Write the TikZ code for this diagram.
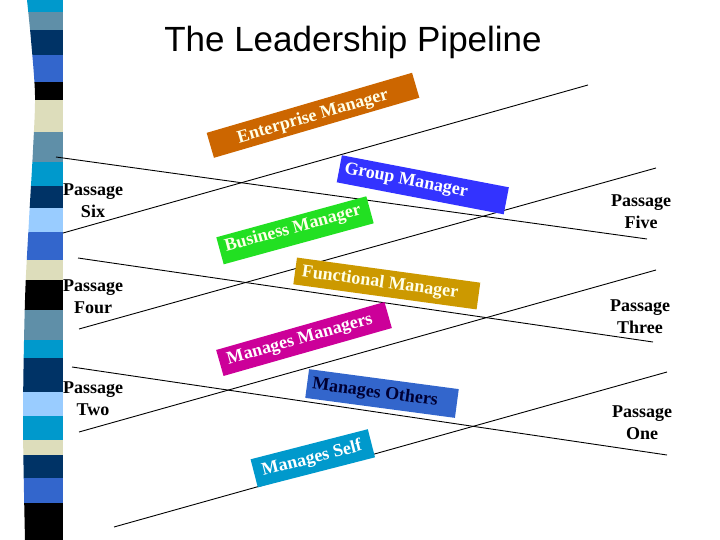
\documentclass[tikz,border=0pt]{standalone}
\usepackage{fontspec}
\setmainfont{Liberation Serif}
\newfontfamily\titlefont{Liberation Sans}
\definecolor{stcyan}{HTML}{0099CC}
\definecolor{ststeel}{HTML}{5F8FA8}
\definecolor{stnavy}{HTML}{003366}
\definecolor{stroyal}{HTML}{3366CC}
\definecolor{stbeige}{HTML}{DDDDBB}
\definecolor{stlight}{HTML}{99CCFF}
\definecolor{entcol}{HTML}{CC6600}
\definecolor{grpcol}{HTML}{3333FF}
\definecolor{buscol}{HTML}{22E022}
\definecolor{funcol}{HTML}{CC9900}
\definecolor{mgrcol}{HTML}{CC0099}
\definecolor{othcol}{HTML}{3366CC}
\definecolor{slfcol}{HTML}{0099CC}
\definecolor{cream}{HTML}{FFFFE8}
\definecolor{darktext}{HTML}{000033}
\begin{document}
\begin{tikzpicture}[x=1pt,y=-1pt,
  banner/.style={draw=none, inner sep=0pt},
  bantext/.style={inner sep=0pt, font=\fontsize{18}{20}\selectfont\bfseries},
  passage/.style={align=center, inner sep=0pt, font=\fontsize{18}{22}\selectfont\bfseries},
  pipeline/.style={draw=black, line width=0.9pt}]
\useasboundingbox[fill=white] (0,0) rectangle (720,540);

% left stripe
\begin{scope}
\clip plot[smooth] coordinates {(25,540) (23,420) (25,300) (29,220) (33,150) (35,95) (31,40) (27,0)} -- (63,0) -- (63,540) -- cycle;
\foreach \ya/\yb/\c in {0/12/stcyan, 12/30/ststeel, 30/55/stnavy, 55/82/stroyal, 82/100/black,
  100/132/stbeige, 132/162/ststeel, 162/186/stcyan, 186/208/stnavy, 208/232/stlight,
  232/260/stroyal, 260/280/stbeige, 280/310/black, 310/340/ststeel, 340/358/stcyan,
  358/392/stnavy, 392/416/stlight, 416/440/stcyan, 440/455/stbeige, 455/478/stnavy,
  478/503/stroyal, 503/540/black}
  \fill[\c] (0,\ya) rectangle (63,\yb);
\end{scope}

% title
\node[font=\titlefont\fontsize{35}{40}\selectfont] (title) at (353,42) {The Leadership Pipeline};

% pipeline line end points
\coordinate (a1) at (63,233);  \coordinate (a2) at (588,85);
\coordinate (b1) at (79,329);  \coordinate (b2) at (656,168);
\coordinate (c1) at (79,432);  \coordinate (c2) at (656,270);
\coordinate (d1) at (114,527); \coordinate (d2) at (667,372);
\coordinate (e1) at (56,157);  \coordinate (e2) at (647,239);
\coordinate (f1) at (78,258);  \coordinate (f2) at (653,342);
\coordinate (g1) at (72,367);  \coordinate (g2) at (667,455);
\draw[pipeline] (a1) -- (a2);
\draw[pipeline] (b1) -- (b2);
\draw[pipeline] (c1) -- (c2);
\draw[pipeline] (d1) -- (d2);
\draw[pipeline] (e1) -- (e2);
\draw[pipeline] (f1) -- (f2);
\draw[pipeline] (g1) -- (g2);

% banners
\node[banner, fill=entcol, minimum width=214pt, minimum height=26pt, rotate=16.3] (entbox) at (313,115.3) {};
\node[bantext, text=cream, rotate=16.3] (enttext) at (313,117) {Enterprise Manager};

\node[banner, fill=grpcol, minimum width=170pt, minimum height=27.5pt, rotate=-10.85] (grpbox) at (422.8,184.8) {};
\node[bantext, text=white, rotate=-10.85] (grptext) at (406,181) {Group Manager};

\node[banner, fill=buscol, minimum width=155.5pt, minimum height=28pt, rotate=15.3] (busbox) at (295,230.3) {};
\node[bantext, text=cream, rotate=15.3] (bustext) at (293,229) {Business Manager};

\node[banner, fill=funcol, minimum width=185pt, minimum height=27pt, rotate=-7.8] (funbox) at (386.8,283.5) {};
\node[bantext, text=cream, rotate=-7.8] (funtext) at (380,283) {Functional Manager};

\node[banner, fill=mgrcol, minimum width=175pt, minimum height=27pt, rotate=15.9] (mgrbox) at (304,339) {};
\node[bantext, text=white, rotate=15.9] (mgrtext) at (300,340) {Manages Managers};

\node[banner, fill=othcol, minimum width=151pt, minimum height=29pt, rotate=-7.6] (othbox) at (382,393.5) {};
\node[bantext, text=darktext, rotate=-7.6] (othtext) at (375,393) {Manages Others};

\node[banner, fill=slfcol, minimum width=121pt, minimum height=29pt, rotate=14.4] (slfbox) at (312.8,458.3) {};
\node[bantext, text=white, rotate=14.4] (slftext) at (312,459) {Manages Self};

% passage labels
\node[passage] (p6) at (93,201) {Passage\\Six};
\node[passage] (p4) at (93,296.5) {Passage\\Four};
\node[passage] (p2) at (93,398.5) {Passage\\Two};
\node[passage] (p5) at (641,212) {Passage\\Five};
\node[passage] (p3) at (640,317) {Passage\\Three};
\node[passage] (p1) at (642,422.5) {Passage\\One};
\end{tikzpicture}
\end{document}
